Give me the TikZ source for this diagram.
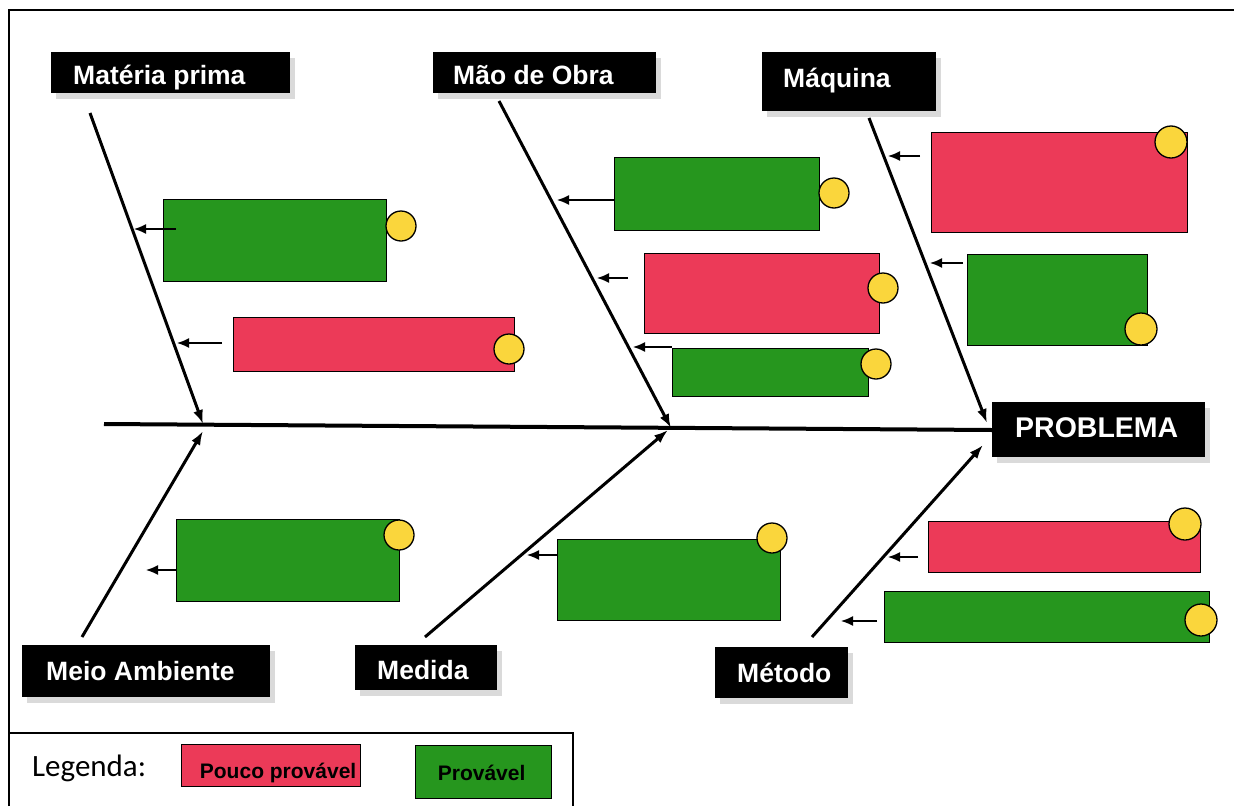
\documentclass[tikz,border=0pt]{standalone}
\usepackage{fontspec}
\setmainfont{Liberation Sans}
\newfontfamily\legfont{Carlito}
\usetikzlibrary{arrows.meta,shadows}

\definecolor{causered}{RGB}{236,58,88}
\definecolor{causegreen}{RGB}{38,150,30}
\definecolor{dotyellow}{RGB}{250,214,60}
\definecolor{shadowgray}{RGB}{218,218,218}

\begin{document}
\begin{tikzpicture}[x=1pt,y=-1pt,
  cause/.style={draw=black, line width=1.3pt, inner sep=0pt, anchor=north west},
  redcause/.style={cause, fill=causered},
  greencause/.style={cause, fill=causegreen},
  dot/.style={circle, draw=black, line width=1.3pt, fill=dotyellow, minimum size=30pt, inner sep=0pt},
  bigdot/.style={dot, minimum size=32pt},
  catbox/.style={fill=black, inner sep=0pt, anchor=north west,
    drop shadow={shadow xshift=5pt, shadow yshift=-6pt, fill=shadowgray, opacity=1}},
  cattext/.style={text=white, font=\bfseries\fontsize{26.5}{31}\selectfont, anchor=base west, inner sep=0pt},
  bone/.style={line width=3pt, -{Latex[length=14pt,width=10pt]}},
  spine/.style={line width=4pt},
  feed/.style={line width=1.5pt, -{Latex[length=12pt,width=10pt]}},
  legbox/.style={draw=black, line width=1.2pt, inner sep=0pt, anchor=north west},
  legtext/.style={anchor=base, inner sep=0pt, font=\bfseries\fontsize{21}{24}\selectfont},
]
\useasboundingbox (0,0) rectangle (1234,806);
\fill[white] (0,0) rectangle (1234,806);

% page frame and legend frame
\draw[line width=1.5pt] (9,806) -- (9,10) -- (1234,10);
\draw[line width=1.5pt] (9,733) -- (573,733) -- (573,806);

% ---------- spine and problem ----------
\node[catbox, minimum width=213pt, minimum height=55pt] (pbBox) at (992,402) {};
\node[cattext, font=\bfseries\fontsize{28.5}{33}\selectfont] (pbText) at (1015,437) {PROBLEMA};
\coordinate (spS) at (104,424);
\coordinate (spE) at (992,430);
\draw[spine] (spS) -- (spE);

% ---------- Matéria prima ----------
\node[catbox, minimum width=239pt, minimum height=41pt] (mpBox) at (51,52) {};
\node[cattext] (mpText) at (73,84) {Matéria prima};
\coordinate (mpS) at (90,113);
\coordinate (mpE) at (203,424);
\draw[bone] (mpS) -- (mpE);
\node[greencause, minimum width=223pt, minimum height=82pt] (mp1) at (163,199) {};
\node[dot] (mp1d) at (401,226) {};
\node[redcause, minimum width=281pt, minimum height=54pt] (mp2) at (233,317) {};
\node[dot] (mp2d) at (509,349) {};
\coordinate (mp1a) at (176,229); \coordinate (mp1b) at (134,229);
\coordinate (mp2a) at (222,343); \coordinate (mp2b) at (177,343);
\draw[feed] (mp1a) -- (mp1b);
\draw[feed] (mp2a) -- (mp2b);

% ---------- Mão de Obra ----------
\node[catbox, minimum width=223pt, minimum height=41pt] (moBox) at (433,52) {};
\node[cattext] (moText) at (453,84) {Mão de Obra};
\coordinate (moS) at (499,101);
\coordinate (moE) at (671,428);
\draw[bone] (moS) -- (moE);
\node[greencause, minimum width=205pt, minimum height=73pt] (mo1) at (614,157) {};
\node[dot] (mo1d) at (834,193) {};
\node[redcause, minimum width=235pt, minimum height=80pt] (mo2) at (644,253) {};
\node[dot] (mo2d) at (883,288) {};
\node[greencause, minimum width=196pt, minimum height=48pt] (mo3) at (672,348) {};
\node[dot] (mo3d) at (876,364) {};
\coordinate (mo1a) at (614,200); \coordinate (mo1b) at (557,200);
\coordinate (mo2a) at (628,278); \coordinate (mo2b) at (597,278);
\coordinate (mo3a) at (672,347); \coordinate (mo3b) at (633,347);
\draw[feed] (mo1a) -- (mo1b);
\draw[feed] (mo2a) -- (mo2b);
\draw[feed] (mo3a) -- (mo3b);

% ---------- Máquina ----------
\node[catbox, minimum width=174pt, minimum height=59pt] (mqBox) at (762,52) {};
\node[cattext] (mqText) at (783,87) {Máquina};
\coordinate (mqS) at (869,118);
\coordinate (mqE) at (987,423);
\draw[bone] (mqS) -- (mqE);
\node[redcause, minimum width=256pt, minimum height=100pt] (mq1) at (931,132) {};
\node[bigdot] (mq1d) at (1171,142) {};
\node[greencause, minimum width=180pt, minimum height=91pt] (mq2) at (967,254) {};
\node[bigdot] (mq2d) at (1141,329) {};
\coordinate (mq1a) at (920,156); \coordinate (mq1b) at (888,156);
\coordinate (mq2a) at (963,263); \coordinate (mq2b) at (930,263);
\draw[feed] (mq1a) -- (mq1b);
\draw[feed] (mq2a) -- (mq2b);

% ---------- Meio Ambiente ----------
\node[catbox, minimum width=248pt, minimum height=52pt] (maBox) at (22,645) {};
\node[cattext] (maText) at (46,680) {Meio Ambiente};
\coordinate (maS) at (82,637);
\coordinate (maE) at (203,431);
\draw[bone] (maS) -- (maE);
\node[greencause, minimum width=223pt, minimum height=82pt] (ma1) at (176,519) {};
\node[dot] (ma1d) at (399,535) {};
\coordinate (ma1a) at (176,570); \coordinate (ma1b) at (146,570);
\draw[feed] (ma1a) -- (ma1b);

% ---------- Medida ----------
\node[catbox, minimum width=142pt, minimum height=45pt] (meBox) at (355,645) {};
\node[cattext] (meText) at (377,679) {Medida};
\coordinate (meS) at (425,637);
\coordinate (meE) at (668,430);
\draw[bone] (meS) -- (meE);
\node[greencause, minimum width=223pt, minimum height=81pt] (me1) at (557,539) {};
\node[dot] (me1d) at (772,538) {};
\coordinate (me1a) at (557,555); \coordinate (me1b) at (527,555);
\draw[feed] (me1a) -- (me1b);

% ---------- Método ----------
\node[catbox, minimum width=133pt, minimum height=51pt] (mtBox) at (715,647) {};
\node[cattext] (mtText) at (737,682) {Método};
\coordinate (mtS) at (812,637);
\coordinate (mtE) at (983,445);
\draw[bone] (mtS) -- (mtE);
\node[redcause, minimum width=272pt, minimum height=51pt] (mt1) at (928,521) {};
\node[bigdot] (mt1d) at (1185,524) {};
\node[greencause, minimum width=325pt, minimum height=51pt] (mt2) at (884,591) {};
\node[bigdot] (mt2d) at (1201,620) {};
\coordinate (mt1a) at (918,557); \coordinate (mt1b) at (888,557);
\coordinate (mt2a) at (877,621); \coordinate (mt2b) at (841,621);
\draw[feed] (mt1a) -- (mt1b);
\draw[feed] (mt2a) -- (mt2b);

% ---------- legend ----------
\node[anchor=base west, inner sep=0pt, font=\legfont\fontsize{31}{35}\selectfont] (lgTitle) at (32,776) {Legenda:};
\node[legbox, fill=causered, minimum width=179pt, minimum height=42pt] (lgRed) at (181,744) {};
\node[legtext] (lgRedText) at ([xshift=7pt,yshift=9pt]lgRed.south) {Pouco provável};
\node[legbox, fill=causegreen, minimum width=136pt, minimum height=53pt] (lgGreen) at (415,745) {};
\node[legtext] (lgGreenText) at ([xshift=-2pt,yshift=19pt]lgGreen.south) {Provável};
\end{tikzpicture}
\end{document}
